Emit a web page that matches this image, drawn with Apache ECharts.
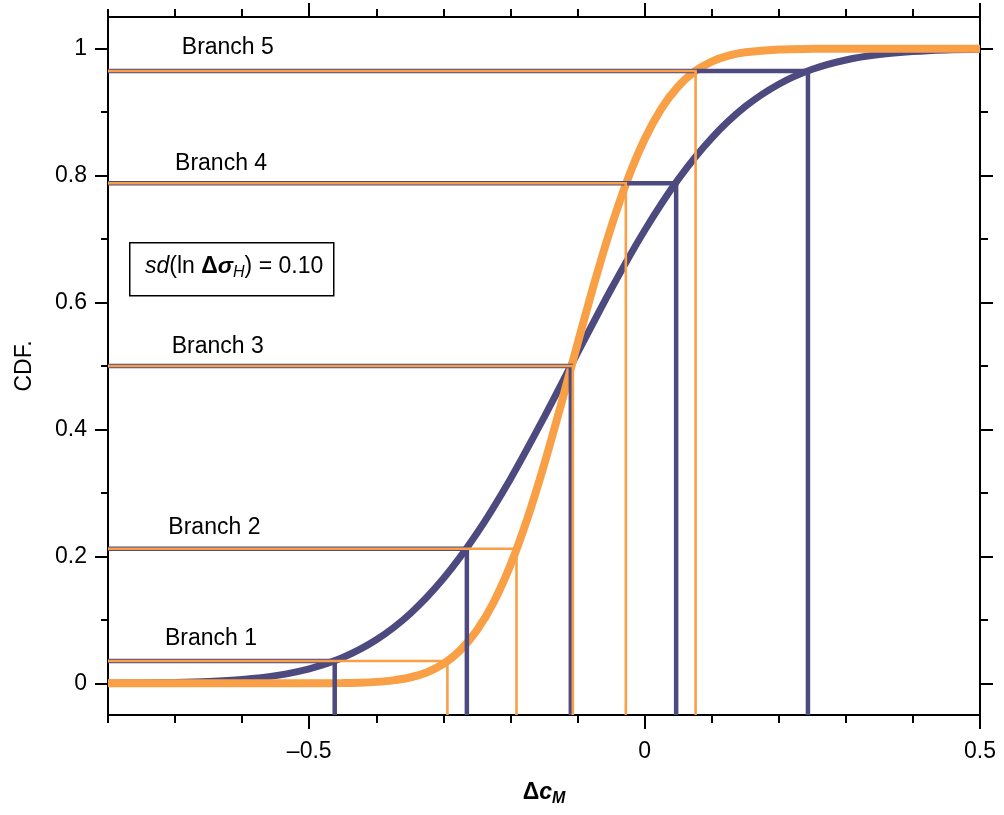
<!DOCTYPE html>
<html>
<head>
<meta charset="utf-8">
<script src="https://cdn.jsdelivr.net/npm/echarts@6/dist/echarts.min.js"></script>
<style>html,body{margin:0;padding:0;background:#fff}#c{width:1004px;height:815px}</style>
</head>
<body>
<div id="c"></div>
<script>
// ---- data ----
var purpleX = [-0.80,-0.75,-0.70,-0.65,-0.60,-0.55,-0.50,-0.45,-0.40,-0.35,-0.30,-0.25,-0.20,-0.15,-0.10,-0.05,0.00,0.05,0.10,0.15,0.20,0.25,0.30,0.35,0.40,0.45,0.50];
var purpleY = [0.0002,0.0005,0.0012,0.0028,0.0060,0.0120,0.0228,0.0406,0.0685,0.1092,0.1650,0.2364,0.3221,0.4188,0.5205,0.6209,0.7136,0.7941,0.8592,0.9088,0.9441,0.9676,0.9823,0.9908,0.9955,0.9980,0.9991];
var orangeX = [-0.80,-0.70,-0.60,-0.50,-0.45,-0.425,-0.40,-0.375,-0.35,-0.325,-0.30,-0.275,-0.25,-0.225,-0.20,-0.175,-0.15,-0.125,-0.10,-0.075,-0.05,-0.025,0.00,0.025,0.05,0.075,0.10,0.125,0.15,0.20,0.25,0.30,0.40,0.50];
var orangeY = [0,0,0,0.0001,0.0004,0.0010,0.0022,0.0046,0.0091,0.0171,0.0305,0.0519,0.0835,0.1277,0.1862,0.2588,0.3438,0.4376,0.5351,0.6305,0.7185,0.7950,0.8574,0.9056,0.9405,0.9644,0.9798,0.9891,0.9944,0.9988,0.9998,1,1,1];
var branchNames = ["Branch 1","Branch 2","Branch 3","Branch 4","Branch 5"];
var branchLevels = [0.035, 0.212, 0.5, 0.788, 0.965];
var purpleCross = [-0.462, -0.265, -0.110, 0.047, 0.2435];
var orangeCross = [-0.294, -0.191, -0.107, -0.028, 0.076];
var labelX = [-0.715, -0.710, -0.705, -0.700, -0.690];
var labelY = [0.071, 0.245, 0.530, 0.819, 1.002];
var xMin = -0.8, xMax = 0.5, yMin = -0.05, yMax = 1.05;
var xMajor = [-0.5, 0, 0.5];
var xMinor = [-0.8,-0.7,-0.6,-0.4,-0.3,-0.2,-0.1,0.1,0.2,0.3,0.4];
var yMajor = [0, 0.2, 0.4, 0.6, 0.8, 1];
var yMinor = [0.1, 0.3, 0.5, 0.7, 0.9];

var PURPLE = '#4D4A7F', ORANGE = '#F9A047';
var FONT = '"Liberation Sans", Arial, Helvetica, sans-serif';

function pairs(xs, ys){ return xs.map(function(x,i){ return [x, ys[i]]; }); }
function branchPaths(cross){
  return cross.map(function(x,i){
    return { coords: [[xMin, branchLevels[i]], [x, branchLevels[i]], [x, yMin]] };
  });
}
function fmt(v){ return v < 0 ? '\u2013' + String(-v) : String(v); }

function xAxisDef(pos, ticks, len, showLabel){
  return {
    type:'value', position: pos, min:xMin, max:xMax,
    axisLine:{show:true, onZero:false, lineStyle:{color:'#000', width:2}},
    axisTick:{show:true, inside:false, length:len, customValues:ticks, lineStyle:{color:'#000', width:2}},
    axisLabel:{show:showLabel, customValues:ticks, margin:25, color:'#000', fontSize:23, fontFamily:FONT, formatter:fmt},
    splitLine:{show:false}
  };
}
function yAxisDef(pos, ticks, len, showLabel){
  return {
    type:'value', position: pos, min:yMin, max:yMax,
    axisLine:{show:true, onZero:false, lineStyle:{color:'#000', width:2}},
    axisTick:{show:true, inside:false, length:len, customValues:ticks, lineStyle:{color:'#000', width:2}},
    axisLabel:{show:showLabel, customValues:ticks, margin:21, color:'#000', fontSize:23, fontFamily:FONT, formatter:function(v){return String(v);}},
    splitLine:{show:false}
  };
}

var xs = [
  xAxisDef('bottom', xMajor, 14, true),
  xAxisDef('bottom', xMinor, 8, false),
  xAxisDef('top', xMajor, 14, false),
  xAxisDef('top', xMinor, 8, false)
];
xs[0].name = '{d|\u0394}{c|c}{m|M}';
xs[0].nameLocation = 'middle';
xs[0].nameGap = 64;
xs[0].nameTextStyle = {
  color:'#000', fontFamily:FONT,
  rich:{
    d:{fontSize:23, fontWeight:'bold', fontFamily:FONT, color:'#000'},
    c:{fontSize:23, fontWeight:'bold', fontStyle:'italic', fontFamily:FONT, color:'#000'},
    m:{fontSize:16, fontWeight:'bold', fontStyle:'italic', fontFamily:FONT, color:'#000', padding:[12,0,0,0]}
  }
};
var ys = [
  yAxisDef('left', yMajor, 13, true),
  yAxisDef('left', yMinor, 7, false),
  yAxisDef('right', yMajor, 13, false),
  yAxisDef('right', yMinor, 8, false)
];
ys[0].name = 'CDF.';
ys[0].nameLocation = 'middle';
ys[0].nameGap = 72;
ys[0].nameTextStyle = {color:'#000', fontSize:23, fontFamily:FONT};

var chart = echarts.init(document.getElementById('c'), null, {renderer:'canvas'});
chart.setOption({
  animation:false,
  backgroundColor:'#fff',
  grid:{left:108, right:24, top:17, bottom:100, containLabel:false},
  xAxis: xs,
  yAxis: ys,
  series:[
    {type:'line', name:'purple', xAxisIndex:0, yAxisIndex:0, data:pairs(purpleX,purpleY), showSymbol:false, symbol:'none',
     smooth:0.3, lineStyle:{color:PURPLE, width:7}, z:2},
    {type:'line', name:'orange', xAxisIndex:0, yAxisIndex:0, data:pairs(orangeX,orangeY), showSymbol:false, symbol:'none',
     smooth:0.3, lineStyle:{color:ORANGE, width:8}, z:3},
    {type:'lines', coordinateSystem:'cartesian2d', xAxisIndex:0, yAxisIndex:0, polyline:true, data:branchPaths(purpleCross),
     lineStyle:{color:PURPLE, width:4.5, opacity:1, join:'miter'}, z:4, silent:true},
    {type:'lines', coordinateSystem:'cartesian2d', xAxisIndex:0, yAxisIndex:0, polyline:true, data:branchPaths(orangeCross),
     lineStyle:{color:ORANGE, width:2.6, opacity:1, join:'miter'}, z:5, silent:true},
    {type:'scatter', xAxisIndex:0, yAxisIndex:0, symbolSize:0, z:6, silent:true,
     itemStyle:{opacity:1},
     data: labelX.map(function(x,i){ return {value:[x, labelY[i]], name:branchNames[i]}; }),
     label:{show:true, position:'right', distance:0, formatter:'{b}', color:'#000', opacity:1, textBorderWidth:0, fontSize:23, fontFamily:FONT}}
  ],
  graphic:[
    {type:'rect', left:129, top:242, shape:{width:204, height:53}, style:{fill:'#fff', stroke:'#000', lineWidth:1.5}, z:10},
    {type:'text', left:145, top:255, z:11,
     style:{
       text:'{i|sd}{n|(ln }{b|\u0394}{bi|\u03c3}{s|H}{n|) = 0.10}',
       fontFamily:FONT, fontSize:23, fill:'#000',
       rich:{
         i:{fontStyle:'italic', fontSize:23, fontFamily:FONT, fill:'#000'},
         n:{fontSize:23, fontFamily:FONT, fill:'#000'},
         b:{fontWeight:'bold', fontSize:23, fontFamily:FONT, fill:'#000'},
         bi:{fontWeight:'bold', fontStyle:'italic', fontSize:23, fontFamily:FONT, fill:'#000'},
         s:{fontStyle:'italic', fontSize:16, fontFamily:FONT, fill:'#000', padding:[12,0,0,0]}
       }
     }}
  ]
});
</script>
</body>
</html>
